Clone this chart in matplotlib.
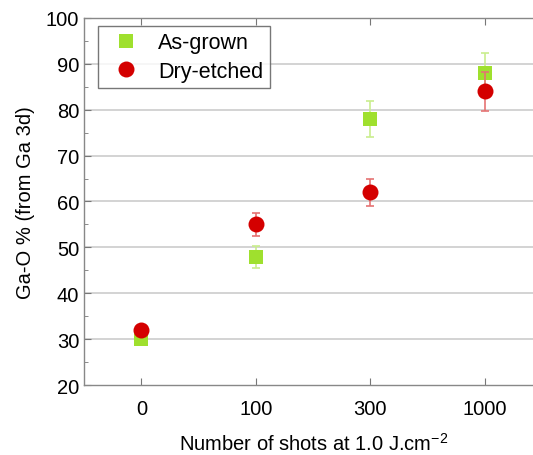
import matplotlib
matplotlib.use("Agg")
import matplotlib.pyplot as plt
from matplotlib.ticker import MultipleLocator

plt.rcParams["font.family"] = ["Liberation Sans", "DejaVu Sans"]

# données
shots = ["0", "100", "300", "1000"]
as_grown = [30, 48, 78, 88]
as_grown_err = [0.3, 2.4, 4.0, 4.3]
dry_etched = [32, 55, 62, 84]
dry_etched_err = [0.3, 2.5, 3.0, 4.2]

fig = plt.figure(figsize=(5.33, 4.56), dpi=100)
ax = fig.add_axes([0.158, 0.1535, 0.859, 0.805])

x = list(range(len(shots)))

# barres d'erreur puis marqueurs (vert dessous, rouge dessus)
ax.errorbar(x, as_grown, yerr=as_grown_err, fmt="none", ecolor="#c9ee8e",
            elinewidth=1.2, capsize=3, capthick=1.2, zorder=3)
h_green, = ax.plot(x, as_grown, "s", color="#9fe02e", markersize=9.5,
                   markeredgewidth=0, label="As-grown", zorder=4)
ax.errorbar(x, dry_etched, yerr=dry_etched_err, fmt="none", ecolor="#e57373",
            elinewidth=1.2, capsize=3, capthick=1.2, zorder=5)
h_red, = ax.plot(x, dry_etched, "o", color="#d40000", markersize=11.5,
                 markeredgewidth=0, label="Dry-etched", zorder=6)

ax.set_xlim(-0.5, 3.5)
ax.set_ylim(20, 100)
ax.set_xticks(x)
ax.set_xticklabels(shots)
ax.yaxis.set_major_locator(MultipleLocator(10))
ax.yaxis.set_minor_locator(MultipleLocator(5))
ax.tick_params(axis="both", which="both", direction="in", colors="#777777",
               labelcolor="black", labelsize=14.5)
ax.tick_params(axis="x", top=True, length=5, pad=10)
ax.tick_params(axis="y", which="major", length=5)
ax.tick_params(axis="y", which="minor", length=3)

for y in range(30, 100, 10):
    ax.axhline(y, color="#cccccc", linewidth=1.2, zorder=1)

for side in ["left", "bottom", "top"]:
    ax.spines[side].set_color("#888888")
    ax.spines[side].set_linewidth(1.0)
ax.spines["right"].set_visible(False)

ax.set_xlabel(r"Number of shots at 1.0 J.cm$\mathregular{^{-2}}$",
              fontsize=14.5, labelpad=10)
ax.set_ylabel("Ga-O % (from Ga 3d)", fontsize=14.5, labelpad=8)

leg = ax.legend(handles=[h_green, h_red], loc="upper left", fontsize=15.5,
                frameon=True, fancybox=False, borderaxespad=0.0,
                borderpad=0.3, handlelength=2.0, handletextpad=0.5,
                labelspacing=0.35, bbox_to_anchor=(0.03, 0.978))
leg.get_frame().set_edgecolor("#555555")
leg.get_frame().set_linewidth(1.0)

fig.savefig("out.png", dpi=100)
